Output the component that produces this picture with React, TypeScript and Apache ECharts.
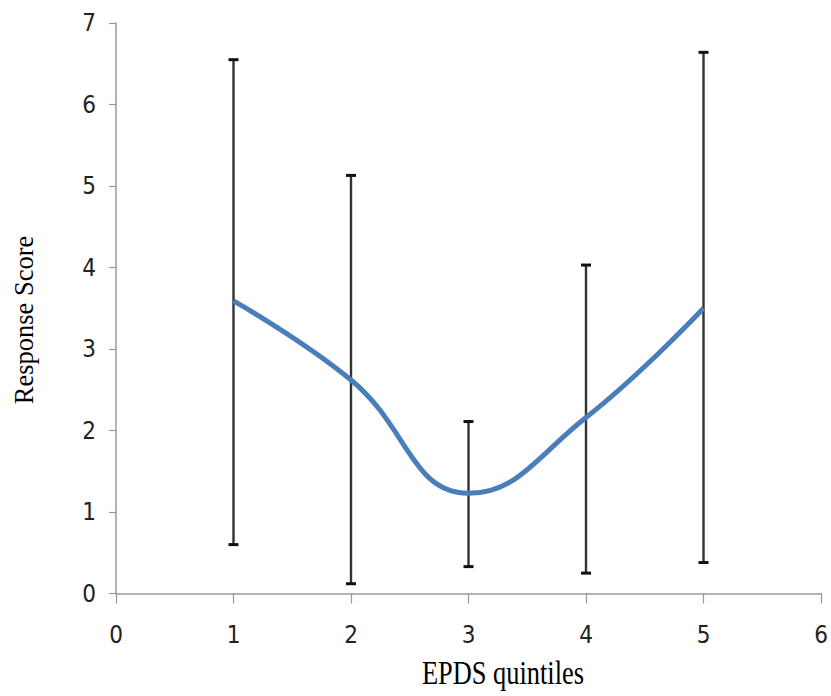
import React, { useEffect, useRef } from "react";
import * as echarts from "echarts";

const xValues = [1, 2, 3, 4, 5];
const meanScores = [3.59, 2.62, 1.23, 2.16, 3.5];
const upperBounds = [6.55, 5.13, 2.11, 4.03, 6.64];
const lowerBounds = [0.6, 0.12, 0.33, 0.25, 0.38];
const xTitle = "EPDS quintiles";
const yTitle = "Response Score";

export default function App() {
  const ref = useRef<HTMLDivElement>(null);
  useEffect(() => {
    const chart = echarts.init(ref.current!, null, { renderer: "svg" });
    const tickFont = {
      fontFamily: "DejaVu Sans Condensed, sans-serif",
      fontSize: 24,
      color: "#222",
    };
    chart.setOption({
      animation: false,
      backgroundColor: "#fff",
      grid: { left: 116, right: 10, top: 23, bottom: 102.5, containLabel: false },
      xAxis: {
        type: "value",
        min: 0,
        max: 6,
        interval: 1,
        axisLine: { lineStyle: { color: "#999", width: 1.5 } },
        axisTick: { show: true, length: 10, lineStyle: { color: "#999", width: 1.2 } },
        axisLabel: { ...tickFont, margin: 29 },
        splitLine: { show: false },
      },
      yAxis: {
        type: "value",
        min: 0,
        max: 7,
        interval: 1,
        axisLine: { show: true, lineStyle: { color: "#999", width: 1.5 } },
        axisTick: { show: true, length: 7, lineStyle: { color: "#999", width: 1.2 } },
        axisLabel: { ...tickFont, margin: 20 },
        splitLine: { show: false },
      },
      graphic: [
        {
          type: "text",
          x: 503,
          y: 672,
          scaleX: 0.8,
          style: {
            text: xTitle,
            fontFamily: "Liberation Serif",
            fontSize: 33,
            fill: "#000",
            align: "center",
            verticalAlign: "middle",
          },
        },
        {
          type: "text",
          x: 24,
          y: 320,
          rotation: Math.PI / 2,
          style: {
            text: yTitle,
            fontFamily: "Liberation Serif",
            fontSize: 26.5,
            fill: "#000",
            align: "center",
            verticalAlign: "middle",
          },
        },
      ],
      series: [
        {
          type: "custom",
          data: xValues.map((x, i) => [x, lowerBounds[i], upperBounds[i]]),
          renderItem: (params: any, api: any) => {
            const x = api.value(0);
            const lo = api.coord([x, api.value(1)]);
            const hi = api.coord([x, api.value(2)]);
            const cw = 5;
            const capStyle = { stroke: "#111", lineWidth: 3 };
            return {
              type: "group",
              children: [
                { type: "line", shape: { x1: lo[0], y1: lo[1], x2: hi[0], y2: hi[1] }, style: { stroke: "#333", lineWidth: 2.4 } },
                { type: "line", shape: { x1: hi[0] - cw, y1: hi[1], x2: hi[0] + cw, y2: hi[1] }, style: capStyle },
                { type: "line", shape: { x1: lo[0] - cw, y1: lo[1], x2: lo[0] + cw, y2: lo[1] }, style: capStyle },
              ],
            };
          },
          z: 2,
        },
        {
          type: "line",
          data: xValues.map((x, i) => [x, meanScores[i]]),
          smooth: 0.45,
          symbol: "none",
          lineStyle: { color: "#4a7ebb", width: 5 },
          z: 3,
        },
      ],
    });
    return () => chart.dispose();
  }, []);
  return <div ref={ref} style={{ width: 831, height: 696, position: "absolute", left: 0, top: 0 }} />;
}
